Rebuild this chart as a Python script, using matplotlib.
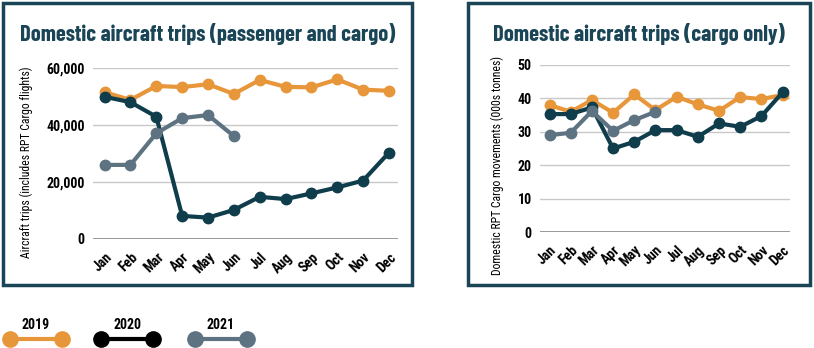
import matplotlib.pyplot as plt
from matplotlib import font_manager
from matplotlib.patches import Rectangle
from matplotlib.lines import Line2D
import numpy as np

months = ['Jan', 'Feb', 'Mar', 'Apr', 'May', 'Jun',
          'Jul', 'Aug', 'Sep', 'Oct', 'Nov', 'Dec']

# Domestic aircraft trips, passenger and cargo
trips_2019 = [51500, 48800, 53700, 53300, 54300, 50900,
              55800, 53400, 53200, 56000, 52400, 52000]
trips_2020 = [49900, 48000, 42900, 8100, 7500, 10200,
              14800, 14000, 16000, 18100, 20500, 30300]
trips_2021 = [26000, 26000, 37100, 42400, 43500, 36100]

# Domestic RPT cargo movements (000s tonnes)
cargo_2019 = [38.0, 36.0, 39.5, 35.7, 41.2, 36.5,
              40.5, 38.2, 36.3, 40.4, 39.8, 41.0]
cargo_2020 = [35.3, 35.3, 37.3, 25.0, 27.0, 30.5,
              30.5, 28.5, 32.5, 31.5, 34.7, 41.8]
cargo_2021 = [29.0, 29.7, 36.2, 30.3, 33.5, 36.0]

ORANGE = '#E8963A'
DARK = '#0F3D4C'
SLATE = '#5E7382'
TITLE = '#1A4556'

# pick condensed families if installed
installed = {f.name for f in font_manager.fontManager.ttflist}


def first_of(*names):
    found = [n for n in names if n in installed]
    return found[:1] + ['DejaVu Sans']


FONT = first_of('Roboto Condensed', 'Barlow Condensed', 'Archivo Narrow')
TITLE_FONT = first_of('Barlow Condensed', 'Roboto Condensed')

W, H = 814, 348
fig = plt.figure(figsize=(W / 100, H / 100), dpi=100)


def px_rect(x0, y0, x1, y1):
    """Convert pixel box (top-left origin) to figure fraction."""
    return [x0 / W, 1 - y1 / H, (x1 - x0) / W, (y1 - y0) / H]


def panel(x0, y0, x1, y1, title, title_size):
    fig.patches.append(Rectangle((x0 / W, 1 - y1 / H), (x1 - x0) / W, (y1 - y0) / H,
                                 transform=fig.transFigure, fill=False,
                                 edgecolor=TITLE, linewidth=2.5))
    fig.text((x0 + x1) / 2 / W, 1 - 34 / H, title, ha='center', va='center',
             color=TITLE, fontsize=title_size, fontweight='bold', family=TITLE_FONT)


def draw(ax, series, ymax, step, fmt, ylabel):
    for vals, color in series:
        x = np.arange(len(vals))
        ax.plot(x, vals, color=color, lw=3, marker='o', ms=7.5,
                solid_joinstyle='round', solid_capstyle='round')
    ax.set_xlim(-0.45, 11.35)
    ax.set_ylim(0, ymax)
    ticks = np.arange(0, ymax + step, step)
    ax.set_yticks(ticks)
    ax.set_yticklabels([fmt(t) for t in ticks], fontweight='bold',
                       fontsize=10, family=FONT)
    ax.set_xticks(range(12))
    ax.set_xticklabels(months, rotation=45, ha='right', rotation_mode='anchor',
                       fontweight='bold', fontsize=10, family=FONT)
    ax.tick_params(length=0, pad=6)
    ax.tick_params(axis='x', pad=8)
    ax.grid(axis='y', color='#C8C8C8', lw=1)
    ax.axhline(0, color='#8A8A8A', lw=1.2, zorder=1)
    for s in ax.spines.values():
        s.set_visible(False)
    ax.set_ylabel(ylabel, fontsize=8.5, family=FONT)
    ax.set_axisbelow(True)


panel(3, 3, 412, 285, 'Domestic aircraft trips (passenger and cargo)', 16.2)
panel(468, 3, 810, 285, 'Domestic aircraft trips (cargo only)', 16.3)

ax1 = fig.add_axes(px_rect(93, 68, 398, 239))
draw(ax1, [(trips_2019, ORANGE), (trips_2020, DARK), (trips_2021, SLATE)],
     60000, 20000, lambda v: f'{int(v):,}',
     'Aircraft trips (includes RPT Cargo flights)')
ax1.yaxis.set_label_coords(-60 / 305, 0.45)

ax2 = fig.add_axes(px_rect(540, 65, 790, 232))
draw(ax2, [(cargo_2019, ORANGE), (cargo_2020, DARK), (cargo_2021, SLATE)],
     50, 10, lambda v: f'{int(v)}',
     'Domestic RPT Cargo movements (000s tonnes)')
ax2.yaxis.set_label_coords(-36 / 250, 0.40)

# Legend below the panels
for label, color, xc in [('2019', ORANGE, 36), ('2020', 'black', 127), ('2021', SLATE, 221)]:
    fig.add_artist(Line2D([(xc - 26) / W, (xc + 26) / W], [1 - 339 / H] * 2,
                          transform=fig.transFigure, color=color, lw=3,
                          marker='o', ms=11))
    fig.text(xc / W, 1 - 325 / H, label, ha='center', va='center',
             fontsize=10, fontweight='bold', family=FONT)

fig.savefig('out.png', dpi=100)
